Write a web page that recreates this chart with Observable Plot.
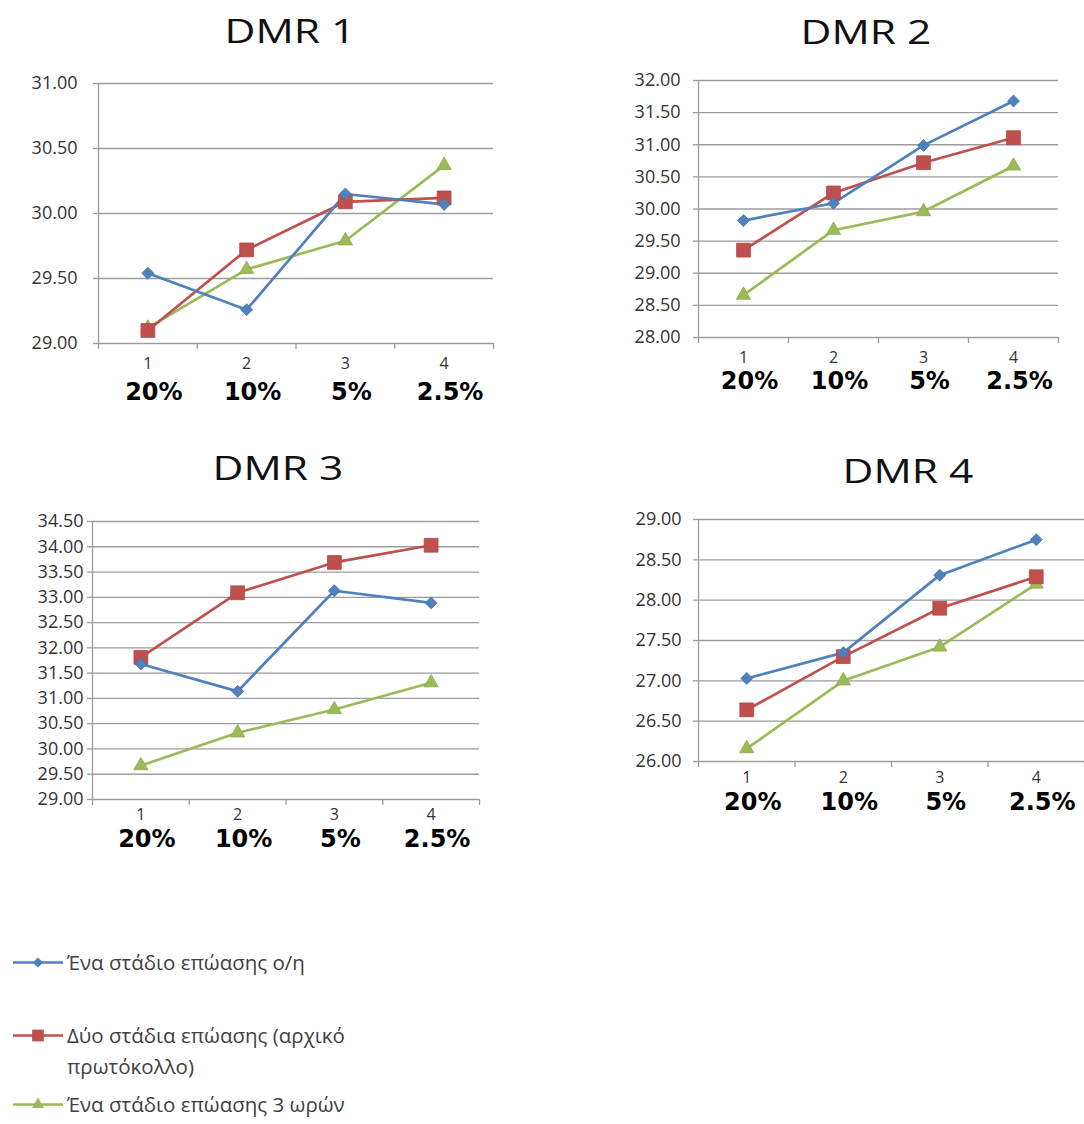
<!DOCTYPE html>
<html>
<head>
<meta charset="utf-8">
<script src="https://cdn.jsdelivr.net/npm/d3@7"></script>
<script src="https://cdn.jsdelivr.net/npm/@observablehq/plot@0.6"></script>
<style>
  body { margin: 0; background: #fff; }
  #root { position: relative; width: 1084px; height: 1124px; overflow: hidden; background: #fff; font-family: "Open Sans", sans-serif; }
  .panel { position: absolute; }
  .title { position: absolute; font-size: 32px; color: #111; white-space: nowrap; transform: translate(-50%, -50%) scaleX(1.33); }
  .legend-item { position: absolute; left: 12px; display: flex; align-items: flex-start; }
  .legend-item svg { flex: none; }
  .legend-item span { font-size: 20.5px; color: #404040; line-height: 31px; width: 360px; margin-left: 3px; }
</style>
</head>
<body>
<div id="root"></div>
<script>
// Dilution steps on the x axis
const categories = [1, 2, 3, 4];
const percentLabels = ["20%", "10%", "5%", "2.5%"];

// Incubation protocols
const seriesNames = [
  "Ένα στάδιο επώασης ο/η",
  "Δύο στάδια επώασης (αρχικό πρωτόκολλο)",
  "Ένα στάδιο επώασης 3 ωρών"
];
const seriesColors = ["#4F81BD", "#C0504D", "#9BBB59"];
const seriesSymbols = ["diamond2", "square", "triangle"];
const seriesRadius = [5.4, 7.8, 5.3];

const panelTitles = ["DMR 1", "DMR 2", "DMR 3", "DMR 4"];

// Ct values per region
const dmr1Overnight = [29.54, 29.26, 30.15, 30.07];
const dmr1TwoStage  = [29.10, 29.72, 30.09, 30.12];
const dmr1ThreeHour = [29.12, 29.57, 29.79, 30.37];

const dmr2Overnight = [29.82, 30.09, 30.99, 31.68];
const dmr2TwoStage  = [29.36, 30.25, 30.72, 31.11];
const dmr2ThreeHour = [28.66, 29.67, 29.96, 30.67];

const dmr3Overnight = [31.68, 31.14, 33.13, 32.89];
const dmr3TwoStage  = [31.81, 33.09, 33.69, 34.03];
const dmr3ThreeHour = [29.67, 30.32, 30.78, 31.31];

const dmr4Overnight = [27.03, 27.35, 28.31, 28.75];
const dmr4TwoStage  = [26.64, 27.30, 27.90, 28.29];
const dmr4ThreeHour = [26.16, 27.00, 27.42, 28.20];

const yDomains = [[29, 31], [28, 32], [29, 34.5], [26, 29]];

const panelSeries = [
  [dmr1Overnight, dmr1TwoStage, dmr1ThreeHour],
  [dmr2Overnight, dmr2TwoStage, dmr2ThreeHour],
  [dmr3Overnight, dmr3TwoStage, dmr3ThreeHour],
  [dmr4Overnight, dmr4TwoStage, dmr4ThreeHour]
];

// Placement of each small chart on the page
const layouts = [
  { left: 0,   top: 60,  width: 520, height: 360, ml: 98,  mr: 27, mt: 23, mb: 77, pad: 16, num: 25, pct: 56, tx: 290, ty: 30 },
  { left: 580, top: 60,  width: 504, height: 360, ml: 118, mr: 26, mt: 20, mb: 83, pad: 13, num: 25, pct: 51, tx: 866, ty: 31 },
  { left: 0,   top: 480, width: 520, height: 390, ml: 92,  mr: 41, mt: 41, mb: 71, pad: 4,  num: 20, pct: 47, tx: 278, ty: 467 },
  { left: 580, top: 490, width: 504, height: 340, ml: 118, mr: 0,  mt: 29, mb: 69, pad: 12, num: 21, pct: 48, tx: 908, ty: 470 }
];

const gridColor = "#9c9c9c";
const boundaries = categories.map(c => c - 0.5).concat([categories[categories.length - 1] + 0.5]);
const root = document.getElementById("root");

panelTitles.forEach((title, p) => {
  const L = layouts[p];
  const [y0, y1] = yDomains[p];
  const yTicks = d3.range(y0, y1 + 1e-9, 0.5);

  const rows = [];
  panelSeries[p].forEach((values, s) => {
    values.forEach((v, i) => rows.push({ cat: categories[i], value: v, series: seriesNames[s], s }));
  });

  // draw green first, blue last so blue sits on top
  const order = [2, 1, 0];
  const seriesMarks = [];
  order.forEach(s => {
    const data = rows.filter(d => d.s === s);
    seriesMarks.push(Plot.line(data, { x: "cat", y: "value", stroke: seriesColors[s], strokeWidth: 2.7 }));
  });
  order.forEach(s => {
    const data = rows.filter(d => d.s === s);
    seriesMarks.push(Plot.dot(data, {
      x: "cat", y: "value", symbol: seriesSymbols[s], r: seriesRadius[s],
      fill: seriesColors[s], stroke: d3.color(seriesColors[s]).darker(0.3).formatHex(), strokeWidth: 0.8
    }));
  });

  const chart = Plot.plot({
    width: L.width,
    height: L.height,
    marginLeft: L.ml,
    marginRight: L.mr,
    marginTop: L.mt,
    marginBottom: L.mb,
    style: { background: "transparent", fontFamily: "Open Sans", fontSize: "17px", overflow: "visible" },
    x: { domain: [boundaries[0], boundaries[boundaries.length - 1]], axis: null },
    y: { domain: [y0, y1], axis: null },
    marks: [
      Plot.gridY(yTicks, { stroke: gridColor, strokeOpacity: 1, strokeWidth: 1.3 }),
      Plot.axisY(yTicks, {
        anchor: "left", label: null, tickSize: 5, tickPadding: L.pad, stroke: gridColor, strokeWidth: 1.3,
        tickFormat: d3.format(".2f"), fill: "#333", fontSize: 18, ariaLabel: "yticks"
      }),
      Plot.ruleX([boundaries[0]], { stroke: gridColor, strokeWidth: 1.3 }),
      Plot.axisX(boundaries, { anchor: "bottom", label: null, tickSize: 6, stroke: gridColor, strokeWidth: 1.3, tickFormat: () => "" }),
      Plot.text(categories, {
        x: d => d, text: d => String(d), frameAnchor: "bottom", dy: L.num,
        fontSize: 16, fill: "#333"
      }),
      Plot.text(percentLabels, {
        x: (d, i) => categories[i], text: d => d, frameAnchor: "bottom", dy: L.pct, dx: 6,
        fontSize: 24, fontWeight: "bold", fontFamily: "DejaVu Sans", fill: "#000", ariaLabel: "percent"
      }),
      ...seriesMarks
    ]
  });
  d3.select(chart).selectAll('g[aria-label="percent"] text').style("letter-spacing", "3px");
  d3.select(chart).selectAll('g[aria-label="yticks"] text').style("letter-spacing", "0.8px");
  chart.classList.add("panel");
  chart.style.left = L.left + "px";
  chart.style.top = L.top + "px";
  root.appendChild(chart);

  const t = document.createElement("div");
  t.className = "title";
  t.textContent = title;
  t.style.left = L.tx + "px";
  t.style.top = L.ty + "px";
  root.appendChild(t);
});

// Legend below the charts
const legendTops = [947, 1020, 1089];
seriesNames.forEach((name, s) => {
  const item = document.createElement("div");
  item.className = "legend-item";
  item.style.top = legendTops[s] + "px";
  const svg = d3.create("svg").attr("width", 52).attr("height", 31);
  svg.append("line").attr("x1", 1).attr("x2", 51).attr("y1", 15.5).attr("y2", 15.5)
    .attr("stroke", seriesColors[s]).attr("stroke-width", 2.7);
  const symbolType = { diamond2: d3.symbolDiamond2, square: d3.symbolSquare, triangle: d3.symbolTriangle }[seriesSymbols[s]];
  const size = Math.PI * Math.pow(seriesRadius[s] * 0.85, 2);
  svg.append("path").attr("d", d3.symbol(symbolType, size)())
    .attr("transform", "translate(26,15.5)").attr("fill", seriesColors[s]);
  item.appendChild(svg.node());
  const label = document.createElement("span");
  label.textContent = name;
  item.appendChild(label);
  root.appendChild(item);
});
</script>
</body>
</html>
